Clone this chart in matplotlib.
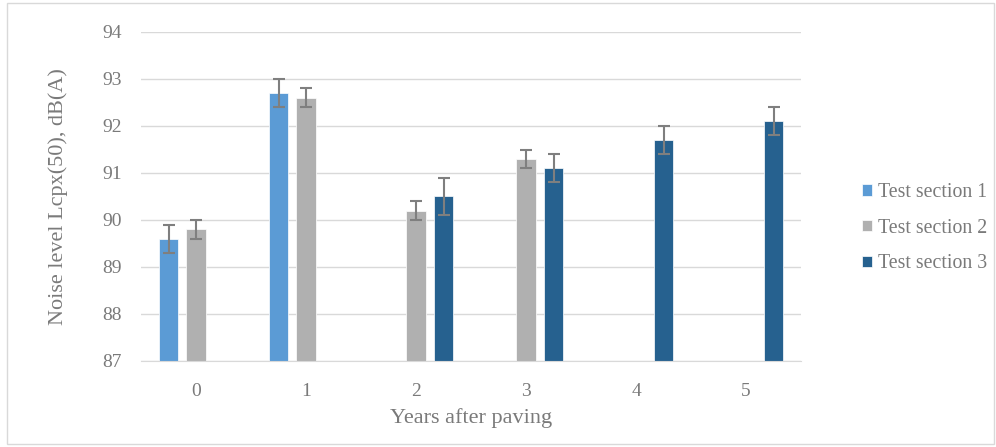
import numpy as np
import matplotlib
matplotlib.use("Agg")
import matplotlib.pyplot as plt
from matplotlib.patches import Rectangle

# data
years = ["0", "1", "2", "3", "4", "5"]
series = ["Test section 1", "Test section 2", "Test section 3"]
sec1 = [89.6, 92.7, np.nan, np.nan, np.nan, np.nan]
sec2 = [89.8, 92.6, 90.2, 91.3, np.nan, np.nan]
sec3 = [np.nan, np.nan, 90.5, 91.1, 91.7, 92.1]
err1 = [0.3, 0.3, 0, 0, 0, 0]
err2 = [0.2, 0.2, 0.2, 0.2, 0, 0]
err3 = [0, 0, 0.4, 0.3, 0.3, 0.3]
colors = ["#5B9BD5", "#B0B0B0", "#26618F"]

plt.rcParams["font.family"] = ["Liberation Serif", "DejaVu Serif"]
txt = "#7A7A7A"

fig = plt.figure(figsize=(9.96, 4.47), dpi=100)
ax = fig.add_axes([141/996, 1-361/447, 660/996, 329/447])

x = np.arange(len(years))
w = 0.18
offs = [-0.25, 0.0, 0.25]
for vals, errs, c, o, lab in zip([sec1, sec2, sec3], [err1, err2, err3], colors, offs, series):
    v = np.array(vals, dtype=float)
    e = np.array(errs, dtype=float)
    m = ~np.isnan(v)
    ax.bar(x[m] + o, v[m] - 87, bottom=87, width=w, color=c, label=lab, zorder=2,
           edgecolor="white", linewidth=0.5)
    ax.errorbar(x[m] + o, v[m], yerr=e[m], fmt="none", ecolor="#7F7F7F",
                elinewidth=1.5, capsize=4.5, capthick=1.5, zorder=3)

ax.set_xlim(-0.5, 5.5)
ax.set_ylim(87, 94)
ax.set_yticks(range(87, 95))
ax.set_xticks(x)
ax.set_xticklabels(years)
ax.grid(axis="y", color="#D9D9D9", linewidth=1, zorder=0)
ax.set_axisbelow(True)
for s in ["top", "right", "left"]:
    ax.spines[s].set_visible(False)
ax.spines["bottom"].set_color("#D9D9D9")
ax.tick_params(axis="both", length=0, labelsize=14, colors=txt)
ax.tick_params(axis="y", pad=14)
ax.tick_params(axis="x", pad=16)
ax.set_xlabel("Years after paving", fontsize=16, color=txt, labelpad=6)
ax.set_ylabel("Noise level Lcpx(50), dB(A)", fontsize=16, color=txt)
ax.yaxis.set_label_coords(-0.111, 0.5)

leg = ax.legend(loc="center left", bbox_to_anchor=(1.065, 0.404), frameon=False,
                fontsize=14.3, handlelength=0.5, handleheight=0.5, handletextpad=0.3,
                labelspacing=0.84, labelcolor=txt)

fig.patches.append(Rectangle((7/996, 3/447), 987/996, 441/447, transform=fig.transFigure,
                             fill=False, edgecolor="#D9D9D9", linewidth=1))
fig.savefig("out.png", dpi=100)
